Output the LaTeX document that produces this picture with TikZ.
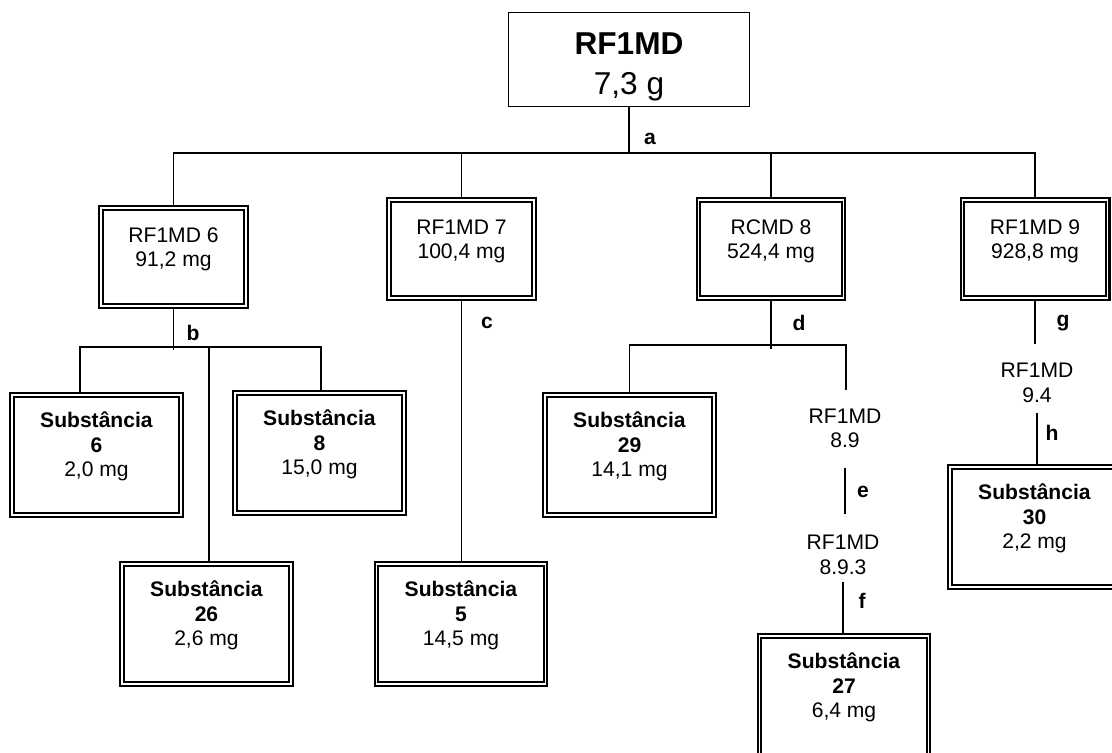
\documentclass[tikz,border=0pt]{standalone}
\usepackage{fontspec}
\setmainfont{Liberation Sans}
\usetikzlibrary{positioning}
\newlength{\unitpx}
\setlength{\unitpx}{0.02cm}

\begin{document}
\begin{tikzpicture}[x=0.02cm, y=-0.02cm,
  link/.style={line width=0.8pt},
  frac/.style={draw, double, line width=1.3pt, double distance=0.8pt,
    inner sep=0pt, align=center, minimum width=145\unitpx,
    minimum height=98\unitpx, text depth=11.2pt,
    font=\fontsize{12}{14}\selectfont},
  subst/.style={frac, minimum width=169\unitpx,
    minimum height=120\unitpx, text depth=12.3pt},
  sub/.style={inner sep=0pt, align=center, font=\fontsize{12}{14}\selectfont},
  tag/.style={inner sep=0pt, font=\fontsize{12}{14}\selectfont\bfseries}]
\useasboundingbox (0,0) rectangle (1112,753);

\node[draw, line width=0.8pt, minimum width=241\unitpx, minimum height=94\unitpx,
  align=center, text height=40pt, text depth=0pt,
  font=\fontsize{18}{22.7}\selectfont] (rf1md) at (629,59.5)
  {\textbf{RF1MD}\\7,3 g};

\node[frac] (rf6) at (173.5,257) {RF1MD 6\\91,2 mg};
\node[frac] (rf7) at (461.5,249) {RF1MD 7\\100,4 mg};
\node[frac] (rc8) at (771,249) {RCMD 8\\524,4 mg};
\node[frac] (rf9) at (1035,249) {RF1MD 9\\928,8 mg};

\node[subst] (s6) at (96.5,455) {\textbf{Substância}\\\textbf{6}\\2,0 mg};
\node[subst] (s8) at (319.5,453) {\textbf{Substância}\\\textbf{8}\\15,0 mg};
\node[subst] (s26) at (206.5,624) {\textbf{Substância}\\\textbf{26}\\2,6 mg};
\node[subst] (s5) at (461,624) {\textbf{Substância}\\\textbf{5}\\14,5 mg};
\node[subst] (s29) at (629.5,455) {\textbf{Substância}\\\textbf{29}\\14,1 mg};
\node[subst] (s27) at (844,696) {\textbf{Substância}\\\textbf{27}\\6,4 mg};
\node[subst] (s30) at (1034.5,527) {\textbf{Substância}\\\textbf{30}\\2,2 mg};

\node[sub] (rf89) at (845,428.5) {RF1MD\\8.9};
\node[sub] (rf893) at (843,555) {RF1MD\\8.9.3};
\node[sub] (rf94) at (1037,383) {RF1MD\\9.4};

% a
\coordinate (ha) at (629,153);
\draw[link] (rf1md) -- (ha);
\draw[link] (rf6) |- (ha) -| (rf9);
\draw[link] (rf7) -- (rf7 |- ha);
\draw[link] (rc8) -- (rc8 |- ha);

% b
\coordinate (hb) at (173.5,350);
\coordinate (b6) at (80,347);
\coordinate (b26) at (209,347);
\coordinate (b8) at (321,347);
\draw[link] (rf6) -- (hb);
\draw[link] (s6.north -| b6) -- (b6) -- (b8) -- (s8.north -| b8);
\draw[link] (b26) -- (s26.north -| b26);

% c
\draw[link] (rf7.south) -- (rf7.south |- s5.north);

% d, e, f
\coordinate (hd) at (771,349);
\coordinate (d89) at (846,345);
\draw[link] (rc8) -- (hd);
\draw[link, shorten >=18\unitpx] (s29) |- (d89) -- (d89 |- rf89.north);
\draw[link, shorten <=19\unitpx, shorten >=21\unitpx]
  (rf89.south) -- (rf89.south |- rf893.north);
\draw[link, shorten <=7\unitpx] (rf893.south) -- (rf893.south |- s27.north);

% g, h
\draw[link, shorten >=19\unitpx] (rf9.south) -- (rf9.south |- rf94.north);
\draw[link, shorten <=10\unitpx] (rf94.south) -- (rf94.south |- s30.north);

\node[tag] (la) at (650,139) {a};
\node[tag] (lb) at (193,333) {b};
\node[tag] (lc) at (487,323) {c};
\node[tag] (ld) at (799,323) {d};
\node[tag] (le) at (863,492) {e};
\node[tag] (lf) at (862,601) {f};
\node[tag] (lg) at (1063,323) {g};
\node[tag] (lh) at (1052,433) {h};
\end{tikzpicture}
\end{document}
